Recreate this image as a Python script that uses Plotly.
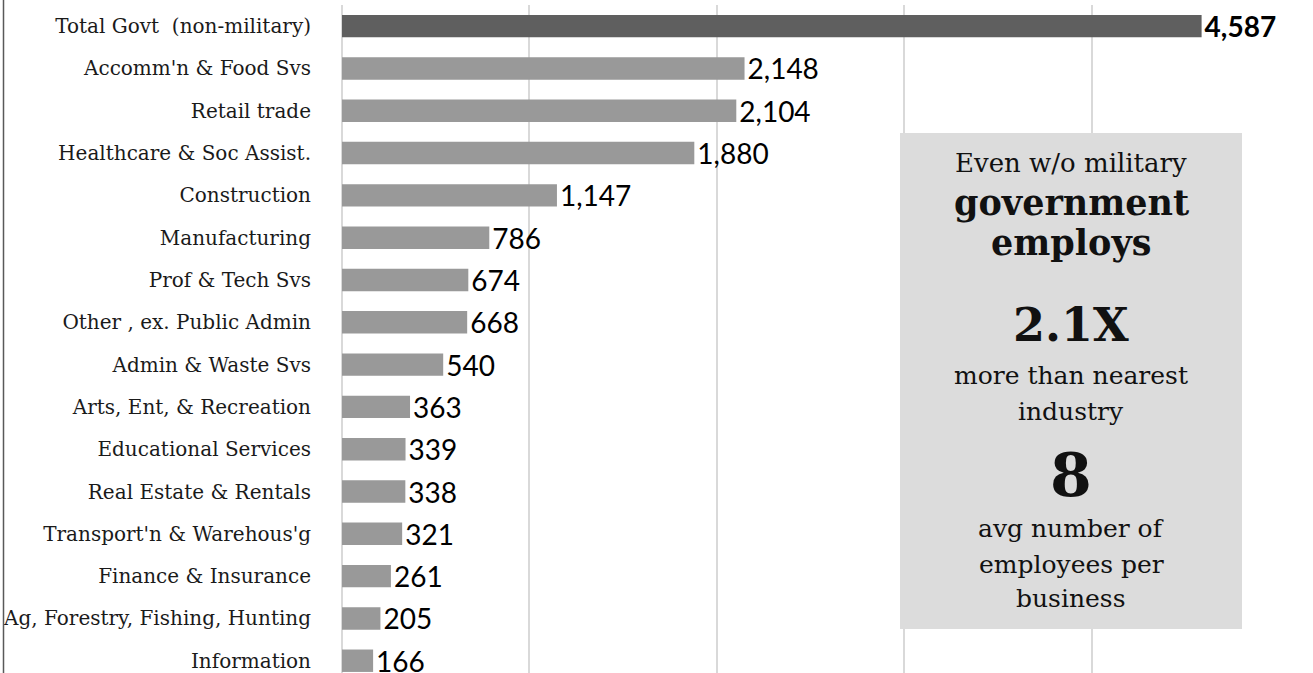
import plotly.graph_objects as go

categories = [
    "Total Govt  (non-military)",
    "Accomm'n & Food Svs",
    "Retail trade",
    "Healthcare & Soc Assist.",
    "Construction",
    "Manufacturing",
    "Prof & Tech Svs",
    "Other , ex. Public Admin",
    "Admin & Waste Svs",
    "Arts, Ent, & Recreation",
    "Educational Services",
    "Real Estate & Rentals",
    "Transport'n & Warehous'g",
    "Finance & Insurance",
    "Ag, Forestry, Fishing, Hunting",
    "Information",
]
employees = [4587, 2148, 2104, 1880, 1147, 786, 674, 668, 540, 363, 339, 338, 321, 261, 205, 166]

box_lines = [
    ("Even w/o military", False, 26),
    ("government", True, 35),
    ("employs", True, 35),
    ("2.1X", True, 46),
    ("more than nearest", False, 25),
    ("industry", False, 25),
    ("8", True, 60),
    ("avg number of", False, 25),
    ("employees per", False, 25),
    ("business", False, 25),
]
box_line_y = [163, 203, 243, 325, 375, 412, 475, 528, 564, 598]

W, H = 1313, 673
L, R, T, B = 342, 1279, 5, 673
pw, ph = R - L, B - T

def px(x):
    return (x - L) / pw

def py(y):
    return 1 - (y - T) / ph

colors = ["#5f5f5f"] + ["#999999"] * (len(categories) - 1)
texts = [f"<b>{v:,}</b>" if i == 0 else f"{v:,}" for i, v in enumerate(employees)]

fig = go.Figure(go.Bar(
    x=employees,
    y=categories,
    orientation="h",
    marker=dict(color=colors, line=dict(width=0)),
    text=texts,
    textposition="outside",
    textfont=dict(family="Lato", size=28, color="#000000"),
    constraintext="none",
    cliponaxis=False,
    width=0.53,
    hoverinfo="skip",
))

fig.update_layout(
    width=W, height=H,
    margin=dict(l=L, r=W - R, t=T, b=H - B, pad=0),
    paper_bgcolor="white",
    plot_bgcolor="white",
    showlegend=False,
    xaxis=dict(
        range=[0, 5000],
        dtick=1000,
        showgrid=True,
        gridcolor="#d9d9d9",
        gridwidth=1.5,
        zeroline=True,
        zerolinecolor="#d9d9d9",
        zerolinewidth=1.5,
        showticklabels=False,
        showline=False,
        fixedrange=True,
    ),
    yaxis=dict(
        categoryorder="array",
        categoryarray=categories,
        range=[15.29, -0.5],
        tickfont=dict(family="DejaVu Serif", size=20, color="#1a1a1a"),
        ticklabelstandoff=30,
        showgrid=False,
        showline=False,
        fixedrange=True,
    ),
)

# left border line
fig.add_shape(type="line", xref="paper", yref="paper",
              x0=px(3.5), x1=px(3.5), y0=py(0), y1=py(673),
              line=dict(color="#595959", width=1.5))

# callout box
fig.add_shape(type="rect", xref="paper", yref="paper",
              x0=px(900), x1=px(1242), y0=py(629), y1=py(133),
              fillcolor="#dcdcdc", line=dict(width=0), layer="above")

for (txt, bold, size), yy in zip(box_lines, box_line_y):
    fig.add_annotation(
        xref="paper", yref="paper", x=px(1071), y=py(yy),
        text=f"<b>{txt}</b>" if bold else txt,
        showarrow=False, xanchor="center", yanchor="middle",
        font=dict(family="DejaVu Serif", size=size, color="#111111"),
    )

fig.write_html(
    "out.html",
    config={"displayModeBar": False},
    post_script="document.body.style.margin='0';document.body.style.overflow='hidden';",
)
